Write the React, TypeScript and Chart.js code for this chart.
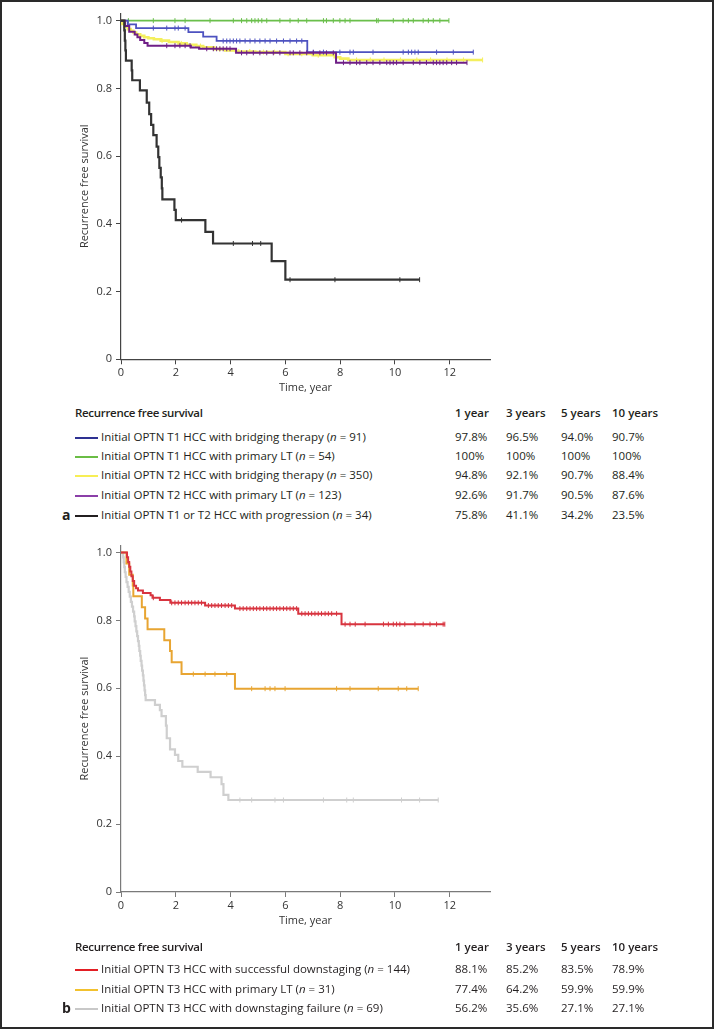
import React, { useEffect, useRef } from 'react';
import { Chart, registerables } from 'chart.js';

Chart.register(...registerables);

const FONT = '"Open Sans", "Noto Sans", sans-serif';

// ---------- Panel a data ----------
const aBlueT = [0, 0.25, 0.55, 2.46, 3.0, 3.49, 6.8];
const aBlueS = [1, 0.989, 0.978, 0.966, 0.953, 0.94, 0.907];
const aBlueCensor = [1.18, 1.67, 1.97, 2.09, 2.34, 3.73, 3.86, 3.98, 4.1, 4.22, 4.34, 4.53, 4.71, 4.89, 5.07, 5.26, 5.44, 5.68, 5.93, 6.17, 6.41, 6.6, 7.02, 7.39, 7.99, 8.36, 8.48, 9.2, 10.3, 10.49, 10.61, 10.73, 10.85, 11.52, 12.13, 12.86];

const aGreenT = [0];
const aGreenS = [1];
const aGreenCensor = [0.27, 1.18, 1.97, 2.34, 3.25, 4.1, 4.4, 4.59, 4.77, 4.89, 5.01, 5.14, 5.32, 5.8, 6.17, 6.47, 6.78, 7.39, 7.5, 7.75, 7.99, 8.18, 8.36, 9.33, 9.39, 9.94, 10.3, 10.49, 10.67, 11.03, 11.22, 11.4, 11.64, 11.97];

const aYellowT = [0, 0.05, 0.12, 0.25, 0.35, 0.45, 0.55, 0.7, 0.85, 1.0, 1.2, 1.45, 1.75, 2.1, 2.4, 2.75, 3.0, 3.4, 3.8, 4.2, 4.9, 6.0, 7.0, 7.8, 8.0, 8.3];
const aYellowS = [1, 0.99, 0.982, 0.975, 0.97, 0.965, 0.96, 0.955, 0.951, 0.948, 0.945, 0.941, 0.937, 0.933, 0.929, 0.925, 0.921, 0.916, 0.912, 0.909, 0.907, 0.902, 0.898, 0.892, 0.888, 0.884];
const aYellowCensor = [1.5, 2.2, 2.9, 3.6, 4.3, 4.7, 5.2, 5.6, 6.1, 6.6, 7.2, 8.6, 9.1, 9.6, 10.2, 10.8, 11.3, 11.9, 12.5, 13.2];

const aPurpleT = [0, 0.15, 0.3, 0.5, 0.6, 0.7, 0.85, 0.97, 2.55, 2.85, 4.2, 7.85];
const aPurpleS = [1, 0.984, 0.967, 0.959, 0.951, 0.943, 0.934, 0.926, 0.921, 0.917, 0.905, 0.876];
const aPurpleCensor = [1.67, 1.97, 2.15, 2.34, 2.52, 3.13, 3.37, 3.49, 3.61, 3.73, 3.86, 3.98, 4.4, 4.59, 4.83, 5.07, 5.32, 5.56, 5.8, 6.17, 6.29, 6.53, 6.78, 7.02, 7.26, 7.5, 7.75, 8.12, 8.36, 8.6, 8.72, 8.97, 9.2, 9.45, 9.7, 9.82, 9.94, 10.06, 10.3, 10.67, 10.91, 11.15, 11.4, 11.52, 11.64, 11.76, 11.89, 12.07, 12.25, 12.63];

const aBlackT = [0, 0.12, 0.14, 0.16, 0.18, 0.39, 0.41, 0.69, 0.94, 1.03, 1.1, 1.18, 1.3, 1.36, 1.4, 1.45, 1.49, 1.51, 1.95, 2.0, 3.08, 3.36, 5.5, 6.0];
const aBlackS = [1, 0.971, 0.941, 0.912, 0.882, 0.853, 0.824, 0.794, 0.758, 0.724, 0.692, 0.662, 0.628, 0.597, 0.565, 0.537, 0.505, 0.472, 0.441, 0.411, 0.376, 0.342, 0.29, 0.235];
const aBlackCensor = [2.21, 4.1, 4.8, 5.1, 6.17, 7.81, 10.18, 10.9];

// ---------- Panel b data ----------
const bRedT = [0, 0.22, 0.26, 0.3, 0.34, 0.38, 0.43, 0.48, 0.55, 0.62, 0.8, 1.08, 1.15, 1.42, 1.8, 3.07, 4.16, 6.47, 8.05];
const bRedS = [1, 0.986, 0.972, 0.958, 0.944, 0.93, 0.916, 0.902, 0.895, 0.888, 0.881, 0.874, 0.867, 0.86, 0.852, 0.844, 0.835, 0.82, 0.789];
const bRedCensor = [1.18, 1.85, 1.97, 2.09, 2.21, 2.34, 2.46, 2.58, 2.7, 2.82, 2.94, 3.19, 3.31, 3.43, 3.55, 3.67, 3.8, 3.92, 4.04, 4.34, 4.46, 4.59, 4.71, 4.83, 4.95, 5.07, 5.2, 5.32, 5.44, 5.56, 5.68, 5.8, 5.93, 6.05, 6.17, 6.29, 6.41, 6.6, 6.72, 6.84, 6.96, 7.08, 7.2, 7.32, 7.45, 7.57, 7.69, 7.87, 8.18, 8.36, 8.55, 8.91, 9.58, 9.76, 9.94, 10.06, 10.18, 10.36, 10.73, 11.03, 11.28, 11.52, 11.76, 11.82];

const bOrangeT = [0, 0.2, 0.3, 0.43, 0.45, 0.76, 0.88, 0.97, 1.58, 1.79, 1.85, 2.21, 4.16];
const bOrangeS = [1, 0.968, 0.935, 0.903, 0.871, 0.839, 0.806, 0.774, 0.742, 0.71, 0.677, 0.642, 0.599];
const bOrangeCensor = [2.64, 3.07, 3.43, 3.86, 4.77, 5.26, 5.44, 5.62, 5.99, 7.87, 8.36, 9.39, 10.12, 10.43, 10.85];

const bGrayT = [0, 0.08, 0.1, 0.12, 0.14, 0.17, 0.2, 0.24, 0.28, 0.32, 0.36, 0.4, 0.44, 0.48, 0.5, 0.53, 0.56, 0.59, 0.62, 0.65, 0.67, 0.7, 0.72, 0.75, 0.77, 0.8, 0.82, 0.84, 0.86, 0.88, 0.9, 1.24, 1.42, 1.48, 1.64, 1.67, 1.79, 1.97, 2.09, 2.24, 2.8, 3.27, 3.67, 3.74, 3.92];
const bGrayS = [1, 0.986, 0.971, 0.957, 0.942, 0.928, 0.913, 0.899, 0.884, 0.87, 0.855, 0.841, 0.826, 0.812, 0.797, 0.783, 0.768, 0.754, 0.739, 0.725, 0.71, 0.696, 0.681, 0.667, 0.652, 0.638, 0.623, 0.609, 0.594, 0.58, 0.565, 0.551, 0.536, 0.518, 0.49, 0.453, 0.42, 0.404, 0.386, 0.369, 0.354, 0.338, 0.318, 0.286, 0.271];
const bGrayCensor = [4.34, 4.77, 5.62, 5.93, 7.39, 8.24, 8.48, 10.24, 10.9, 11.58];

// ---------- Axis ticks ----------
const xTickStep = 2;
const xMax = 13.47;
const yTickStep = 0.2;
const yMax = 1.022;

// ---------- Tables ----------
const tableHeaders = ['1 year', '3 years', '5 years', '10 years'];
const aLabels = ['Initial OPTN T1 HCC with bridging therapy', 'Initial OPTN T1 HCC with primary LT', 'Initial OPTN T2 HCC with bridging therapy', 'Initial OPTN T2 HCC with primary LT', 'Initial OPTN T1 or T2 HCC with progression'];
const aN = ['91', '54', '350', '123', '34'];
const aYear1 = ['97.8%', '100%', '94.8%', '92.6%', '75.8%'];
const aYear3 = ['96.5%', '100%', '92.1%', '91.7%', '41.1%'];
const aYear5 = ['94.0%', '100%', '90.7%', '90.5%', '34.2%'];
const aYear10 = ['90.7%', '100%', '88.4%', '87.6%', '23.5%'];
const aLegendColors = ['#2e3192', '#6abd45', '#f7ee55', '#8b3fa8', '#231f20'];

const bLabels = ['Initial OPTN T3 HCC with successful downstaging', 'Initial OPTN T3 HCC with primary LT', 'Initial OPTN T3 HCC with downstaging failure'];
const bN = ['144', '31', '69'];
const bYear1 = ['88.1%', '77.4%', '56.2%'];
const bYear3 = ['85.2%', '64.2%', '35.6%'];
const bYear5 = ['83.5%', '59.9%', '27.1%'];
const bYear10 = ['78.9%', '59.9%', '27.1%'];
const bLegendColors = ['#e31e24', '#f2c12e', '#c8c8c8'];

type Series = { t: number[]; s: number[]; c: number[]; color: string; width: number; order: number };

function kmData(times: number[], surv: number[], censor: number[]) {
  const pts = times.map((t, i) => ({ x: t, y: surv[i], c: false }));
  censor.forEach((ct) => {
    let y = surv[0];
    for (let i = 0; i < times.length; i++) if (times[i] <= ct) y = surv[i];
    pts.push({ x: ct, y, c: true });
  });
  pts.sort((p, q) => p.x - q.x || (p.c ? 1 : -1));
  return pts;
}

const aSeries: Series[] = [
  { t: aBlackT, s: aBlackS, c: aBlackCensor, color: '#333333', width: 2.2, order: 1 },
  { t: aPurpleT, s: aPurpleS, c: aPurpleCensor, color: '#6f1f86', width: 2, order: 2 },
  { t: aBlueT, s: aBlueS, c: aBlueCensor, color: '#4d52c0', width: 1.8, order: 3 },
  { t: aGreenT, s: aGreenS, c: aGreenCensor, color: '#6abf4b', width: 1.8, order: 4 },
  { t: aYellowT, s: aYellowS, c: aYellowCensor, color: '#f4ef5e', width: 2.6, order: 5 },
];

const bSeries: Series[] = [
  { t: bRedT, s: bRedS, c: bRedCensor, color: '#d8343f', width: 2, order: 1 },
  { t: bOrangeT, s: bOrangeS, c: bOrangeCensor, color: '#e8a532', width: 2, order: 2 },
  { t: bGrayT, s: bGrayS, c: bGrayCensor, color: '#cfcfcf', width: 2.2, order: 3 },
];

type KMProps = {
  series: Series[];
  canvasTop: number;
  canvasHeight: number;
  areaTop: number;
  areaBottom: number;
  titleY: number;
  axisColor: string;
};

function KMChart({ series, canvasTop, canvasHeight, areaTop, areaBottom, titleY, axisColor }: KMProps) {
  const ref = useRef<HTMLCanvasElement | null>(null);
  useEffect(() => {
    const titleHalf = 6.6;
    const padTop = areaTop - canvasTop;
    const xh = titleY + titleHalf - areaBottom;
    const padBottom = canvasHeight - (areaBottom - canvasTop) - xh;
    const tickFont = { family: FONT, size: 11 };
    const chart = new Chart(ref.current as HTMLCanvasElement, {
      type: 'line',
      data: {
        datasets: series.map((s) => ({
          data: kmData(s.t, s.s, s.c) as any,
          borderColor: s.color,
          borderWidth: s.width,
          stepped: true,
          fill: false,
          order: s.order,
          pointStyle: 'line',
          rotation: 90,
          pointRadius: (ctx: any) => (ctx.raw && ctx.raw.c ? 2.5 : 0),
          pointHoverRadius: 0,
          pointBorderColor: s.color,
          pointBackgroundColor: s.color,
          pointBorderWidth: 1,
        })),
      },
      options: {
        animation: false,
        responsive: false,
        maintainAspectRatio: false,
        events: [],
        layout: { padding: { left: 78, top: padTop, right: 224, bottom: padBottom } },
        plugins: { legend: { display: false }, tooltip: { enabled: false } },
        scales: {
          x: {
            type: 'linear',
            min: 0,
            max: xMax,
            afterFit: (sc: any) => {
              sc.height = xh;
            },
            ticks: {
              stepSize: xTickStep,
              includeBounds: false,
              padding: 2,
              color: '#333',
              font: tickFont,
              maxRotation: 0,
              autoSkip: false,
            },
            grid: { drawOnChartArea: false, drawTicks: true, tickLength: 5, color: axisColor, lineWidth: 1 },
            border: { display: true, color: axisColor, width: 1.2 },
            title: { display: true, text: 'Time, year', color: '#333', font: tickFont, padding: 0 },
          },
          y: {
            min: 0,
            max: yMax,
            afterFit: (sc: any) => {
              sc.width = 43;
            },
            ticks: {
              stepSize: yTickStep,
              includeBounds: false,
              padding: 4,
              color: '#333',
              font: tickFont,
              callback: (v: any) => (Number(v) === 0 ? '0' : Number(v).toFixed(1)),
            },
            grid: { drawOnChartArea: false, drawTicks: true, tickLength: 5, color: axisColor, lineWidth: 1 },
            border: { display: true, color: axisColor, width: 1.2 },
            title: { display: true, text: 'Recurrence free survival', color: '#333', font: tickFont, padding: 0 },
          },
        },
      } as any,
    });
    return () => chart.destroy();
  }, []);
  return (
    <canvas
      ref={ref}
      width={714}
      height={canvasHeight}
      style={{ position: 'absolute', left: 0, top: canvasTop, width: 714, height: canvasHeight }}
    />
  );
}

const colX = [455, 506, 561, 612];
const textStyle: React.CSSProperties = {
  position: 'absolute',
  fontFamily: FONT,
  fontSize: 11.5,
  lineHeight: '16px',
  height: 16,
  whiteSpace: 'nowrap',
  color: '#231f20',
};

function Table({ headerY, rowYs, labels, ns, cols, colors, letter }: {
  headerY: number;
  rowYs: number[];
  labels: string[];
  ns: string[];
  cols: string[][];
  colors: string[];
  letter: string;
}) {
  return (
    <>
      <div style={{ ...textStyle, left: 75, top: headerY - 8, fontWeight: 600, letterSpacing: -0.3 }}>Recurrence free survival</div>
      {tableHeaders.map((h, i) => (
        <div key={'h' + i} style={{ ...textStyle, left: colX[i], top: headerY - 8, fontWeight: 600 }}>{h}</div>
      ))}
      {labels.map((lab, r) => (
        <React.Fragment key={'r' + r}>
          <div style={{ position: 'absolute', left: 75, top: Math.round(rowYs[r]), width: 23, height: 2, background: colors[r] }} />
          <div style={{ ...textStyle, left: 101, top: rowYs[r] - 8 }}>
            {lab} (<i>n</i> = {ns[r]})
          </div>
          {cols.map((col, c) => (
            <div key={'c' + c} style={{ ...textStyle, left: colX[c], top: rowYs[r] - 8 }}>{col[r]}</div>
          ))}
        </React.Fragment>
      ))}
      <div style={{ ...textStyle, left: 62, top: rowYs[rowYs.length - 1] - 9, fontWeight: 700, fontSize: 14, lineHeight: '18px', height: 18 }}>{letter}</div>
    </>
  );
}

export default function App() {
  return (
    <div
      style={{
        position: 'absolute',
        left: 0,
        top: 0,
        width: 714,
        height: 1029,
        background: '#fff',
        boxSizing: 'border-box',
        border: '2px solid #2a2a2a',
        overflow: 'hidden',
      }}
    >
      <div style={{ position: 'absolute', left: -2, top: -2, width: 714, height: 1029 }}>
        <KMChart series={aSeries} canvasTop={0} canvasHeight={400} areaTop={13.2} areaBottom={359.3} titleY={388} axisColor="#444" />
        <Table
          headerY={413}
          rowYs={[436.5, 455.5, 475, 495, 514.5]}
          labels={aLabels}
          ns={aN}
          cols={[aYear1, aYear3, aYear5, aYear10]}
          colors={aLegendColors}
          letter="a"
        />
        <KMChart series={bSeries} canvasTop={530} canvasHeight={410} areaTop={545.1} areaBottom={892} titleY={921} axisColor="#7a7a7a" />
        <Table
          headerY={947}
          rowYs={[969, 988.5, 1007.5]}
          labels={bLabels}
          ns={bN}
          cols={[bYear1, bYear3, bYear5, bYear10]}
          colors={bLegendColors}
          letter="b"
        />
      </div>
    </div>
  );
}
